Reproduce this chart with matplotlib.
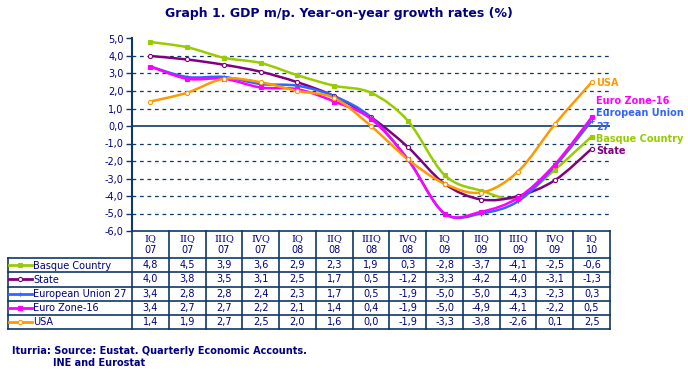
import matplotlib.pyplot as plt
from matplotlib.path import Path
from matplotlib.patches import PathPatch
from matplotlib.lines import Line2D
import matplotlib.transforms as mtransforms

quarters = ["IQ", "IIQ", "IIIQ", "IVQ", "IQ", "IIQ", "IIIQ", "IVQ", "IQ", "IIQ", "IIIQ", "IVQ", "IQ"]
years = ["07", "07", "07", "07", "08", "08", "08", "08", "09", "09", "09", "09", "10"]

basque = [4.8, 4.5, 3.9, 3.6, 2.9, 2.3, 1.9, 0.3, -2.8, -3.7, -4.1, -2.5, -0.6]
state = [4.0, 3.8, 3.5, 3.1, 2.5, 1.7, 0.5, -1.2, -3.3, -4.2, -4.0, -3.1, -1.3]
eu27 = [3.4, 2.8, 2.8, 2.4, 2.3, 1.7, 0.5, -1.9, -5.0, -5.0, -4.3, -2.3, 0.3]
ez16 = [3.4, 2.7, 2.7, 2.2, 2.1, 1.4, 0.4, -1.9, -5.0, -4.9, -4.1, -2.2, 0.5]
usa = [1.4, 1.9, 2.7, 2.5, 2.0, 1.6, 0.0, -1.9, -3.3, -3.8, -2.6, 0.1, 2.5]

series_names = ["Basque Country", "State", "European Union 27", "Euro Zone-16", "USA"]
series_values = [basque, state, eu27, ez16, usa]
colors = ["#99CC00", "#800080", "#3366FF", "#FF00FF", "#FF9900"]
markers = ["s", "o", "+", "s", "o"]
yticks = [5, 4, 3, 2, 1, 0, -1, -2, -3, -4, -5, -6]

NAVY = "#000080"
LINE = "#0F3868"
W, H = 688, 378


def fy(py):
    return 1 - py / H


def fx(px):
    return px / W


def smooth_path(xs, ys):
    # excel-style smoothed line, cubic bezier through the points
    n = len(xs)
    verts = [(xs[0], ys[0])]
    codes = [Path.MOVETO]
    for i in range(n - 1):
        p0 = (xs[max(i - 1, 0)], ys[max(i - 1, 0)])
        p1 = (xs[i], ys[i])
        p2 = (xs[i + 1], ys[i + 1])
        p3 = (xs[min(i + 2, n - 1)], ys[min(i + 2, n - 1)])
        c1 = (p1[0] + (p2[0] - p0[0]) / 6, p1[1] + (p2[1] - p0[1]) / 6)
        c2 = (p2[0] - (p3[0] - p1[0]) / 6, p2[1] - (p3[1] - p1[1]) / 6)
        verts += [c1, c2, p2]
        codes += [Path.CURVE4] * 3
    return Path(verts, codes)


fig = plt.figure(figsize=(W / 100, H / 100), dpi=100)
ax = fig.add_axes([fx(132), fy(231), fx(610) - fx(132), fy(38.5) - fy(231)])

xs = list(range(len(quarters)))
ax.set_xlim(-0.5, len(quarters) - 0.5)
ax.set_ylim(-6, 5)

for y in yticks:
    if y == 0:
        ax.axhline(y, color=LINE, lw=1.2, zorder=1)
    elif -6 < y < 5:
        ax.axhline(y, color=LINE, lw=0.9, ls=(0, (3, 3)), zorder=1)

for vals, c, m in zip(series_values, colors, markers):
    ax.add_patch(PathPatch(smooth_path(xs, vals), fill=False, edgecolor=c, lw=1.8, zorder=3))
    ax.plot(xs, vals, ls="none", marker=m, ms=3, mec=c, mfc="white" if m == "o" else c,
            mew=0.8, zorder=4)

ax.set_yticks(yticks)
ax.set_yticklabels([f"{v:.1f}".replace(".", ",") for v in yticks], color=NAVY, fontsize=7)
ax.set_xticks([])
for s in ["top", "right", "bottom"]:
    ax.spines[s].set_visible(False)
ax.spines["left"].set_color(LINE)
ax.spines["left"].set_linewidth(1.5)
ax.tick_params(axis="y", length=4, width=1, color=LINE, pad=2)

# labels at the end of lines
end_labels = [("USA", 83, colors[4]), ("Euro Zone-16", 101, colors[3]),
              ("European Union", 113, colors[2]), ("27", 127, colors[2]),
              ("Basque Country", 139, colors[0]), ("State", 151, colors[1])]
for txt, py, c in end_labels:
    fig.text(fx(596), fy(py), txt, color=c, fontsize=7, fontweight="bold", va="center")

# data table under the chart
colT = mtransforms.blended_transform_factory(ax.transData, fig.transFigure)
row_tops = [231, 258.3, 272.3, 286.5, 300.5, 314.5, 328.5]
for i in range(len(quarters) + 1):
    ax.add_line(Line2D([i - 0.5, i - 0.5], [fy(231), fy(328.5)], transform=colT,
                       color=LINE, lw=1.2, clip_on=False))
fig.add_artist(Line2D([fx(132), fx(610)], [fy(231), fy(231)], color=LINE, lw=1.2))
for py in row_tops[1:]:
    fig.add_artist(Line2D([fx(7.5), fx(610)], [fy(py), fy(py)], color=LINE, lw=1.2))
fig.add_artist(Line2D([fx(7.5), fx(7.5)], [fy(258.3), fy(328.5)], color=LINE, lw=1.2))

for i, (q, yr) in enumerate(zip(quarters, years)):
    ax.text(i, fy(239), q, transform=colT, ha="center", va="center", fontsize=7,
            color=NAVY, family="DejaVu Serif", clip_on=False)
    ax.text(i, fy(250), yr, transform=colT, ha="center", va="center", fontsize=7,
            color=NAVY, clip_on=False)

for r, (name, vals, c, m) in enumerate(zip(series_names, series_values, colors, markers)):
    yc = (row_tops[r + 1] + row_tops[r + 2]) / 2
    fig.add_artist(Line2D([fx(9), fx(32)], [fy(yc), fy(yc)], color=c, lw=2))
    fig.add_artist(Line2D([fx(20)], [fy(yc)], marker=m, ms=3, mec=c,
                          mfc="white" if m == "o" else c, mew=0.8, color=c))
    fig.text(fx(33), fy(yc + 0.5), name, fontsize=7, color=NAVY, va="center")
    for i, v in enumerate(vals):
        ax.text(i, fy(yc), f"{v:.1f}".replace(".", ","), transform=colT, ha="center",
                va="center", fontsize=7, color=NAVY, clip_on=False)

fig.text(fx(339), fy(14), "Graph 1. GDP m/p. Year-on-year growth rates (%)", ha="center",
         va="center", fontsize=9, fontweight="bold", color=NAVY)
fig.text(fx(12), fy(351), "Iturria: Source: Eustat. Quarterly Economic Accounts.", fontsize=7,
         fontweight="bold", color=NAVY, va="center")
fig.text(fx(53), fy(363), "INE and Eurostat", fontsize=7, fontweight="bold", color=NAVY,
         va="center")

fig.savefig("out.png", dpi=100)
